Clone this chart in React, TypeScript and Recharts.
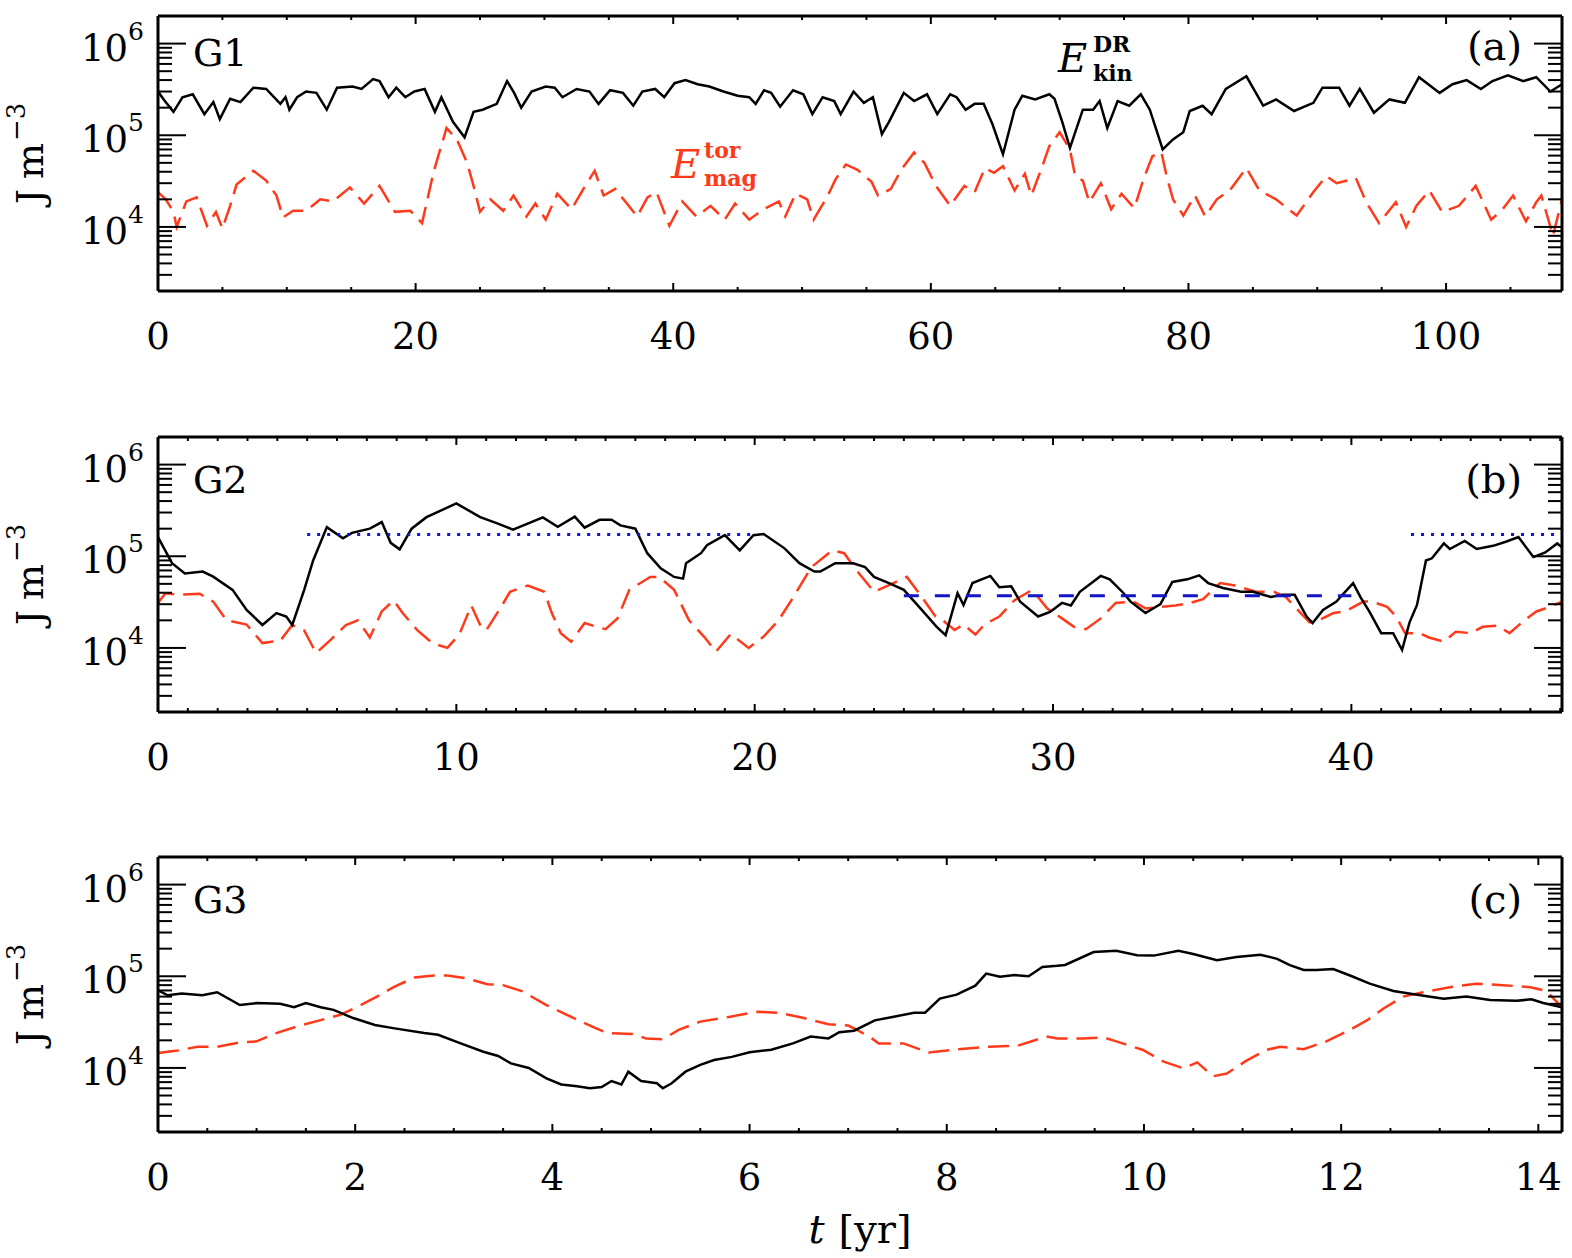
import React from "react";
import { LineChart, Line, XAxis, YAxis } from "recharts";

const SERIF = '"DejaVu Serif", "Liberation Serif", serif';
const INK = "#000000";
const RED = "#ff3a1a";
const BLUE = "#1414c8";

// ---------- shared axis data ----------
const yDomain = [2e3, 2e6];
const yTicks = [
  3e3, 4e3, 5e3, 6e3, 7e3, 8e3, 9e3, 1e4, 2e4, 3e4, 4e4, 5e4, 6e4, 7e4, 8e4, 9e4,
  1e5, 2e5, 3e5, 4e5, 5e5, 6e5, 7e5, 8e5, 9e5, 1e6,
];

// ---------- panel (a) G1 ----------
const g1Domain = [0, 109];
const g1Ticks = [0, 5, 10, 15, 20, 25, 30, 35, 40, 45, 50, 55, 60, 65, 70, 75, 80, 85, 90, 95, 100, 105];
const g1KinT = [
  0, 0.5, 1.2, 1.9, 2.7, 3.6, 4.3, 4.8, 5.6, 6.4, 7.4, 8.4, 9.5, 9.9, 10.2, 10.8, 11.5, 12.3, 13.1, 13.9,
  15.1, 15.8, 16.7, 17.2, 17.9, 18.5, 19.2, 19.9, 20.7, 21.5, 22.0, 22.9, 23.8, 24.5, 25.2, 26.3, 27.1, 27.65,
  28.2, 29.0, 30.1, 30.8, 31.4, 32.5, 33.5, 34.2, 35.1, 36.1, 36.9, 37.6, 38.6, 39.3, 40.1, 40.95, 41.9, 42.8,
  43.9, 45.0, 45.9, 46.4, 47.05, 47.6, 48.3, 49.3, 50.1, 50.8, 51.6, 52.5, 53.0, 54.0, 54.8, 55.5, 56.2, 56.75,
  57.9, 58.7, 59.7, 60.5, 61.5, 62.0, 62.7, 63.4, 64.1, 64.8, 65.6, 66.5, 67.1, 68.1, 69.2, 69.6, 70.2, 70.8,
  71.8, 72.6, 73.1, 73.7, 74.5, 75.4, 76.3, 77.0, 78.0, 78.8, 79.6, 80.1, 81.1, 81.8, 82.9, 84.5, 85.8, 86.8,
  88.2, 89.7, 90.4, 91.7, 92.5, 93.3, 94.4, 95.6, 96.8, 97.9, 99.5, 100.5, 101.6, 102.7, 103.6, 104.8, 106.0,
  107.0, 108.1, 109,
];
const g1KinE = [
  3.0e5, 2.4e5, 1.8e5, 2.6e5, 2.8e5, 1.7e5, 2.3e5, 1.5e5, 2.5e5, 2.3e5, 3.3e5, 3.2e5, 2.2e5, 2.6e5, 1.9e5, 2.6e5,
  3.0e5, 2.9e5, 1.9e5, 3.3e5, 3.4e5, 3.2e5, 4.1e5, 3.9e5, 2.6e5, 3.3e5, 2.6e5, 3.0e5, 3.2e5, 1.8e5, 2.6e5, 1.4e5,
  0.95e5, 1.8e5, 1.9e5, 2.2e5, 3.9e5, 2.9e5, 2.0e5, 3.0e5, 3.4e5, 3.3e5, 2.6e5, 3.2e5, 3.0e5, 2.2e5, 3.1e5, 2.9e5,
  2.1e5, 3.0e5, 3.2e5, 2.6e5, 3.7e5, 4.0e5, 3.6e5, 3.4e5, 3.0e5, 2.7e5, 2.6e5, 2.2e5, 3.1e5, 2.9e5, 2.05e5, 3.1e5,
  2.8e5, 1.7e5, 2.6e5, 2.36e5, 1.7e5, 3.0e5, 2.26e5, 2.6e5, 1.03e5, 1.4e5, 2.9e5, 2.36e5, 2.8e5, 1.7e5, 2.8e5,
  2.6e5, 1.9e5, 2.2e5, 2.2e5, 1.3e5, 0.62e5, 1.9e5, 2.7e5, 2.46e5, 2.8e5, 2.5e5, 1.4e5, 0.73e5, 1.9e5, 1.9e5,
  2.36e5, 1.2e5, 2.36e5, 2.1e5, 2.8e5, 1.9e5, 0.7e5, 0.9e5, 1.08e5, 1.84e5, 2.1e5, 1.7e5, 3.2e5, 4.4e5, 2.1e5,
  2.46e5, 1.84e5, 2.26e5, 3.3e5, 3.3e5, 2.1e5, 3.2e5, 1.76e5, 2.46e5, 2.26e5, 4.3e5, 2.9e5, 3.6e5, 4.0e5, 3.2e5,
  3.9e5, 4.5e5, 3.9e5, 4.3e5, 3.0e5, 3.6e5,
];
const g1MagT = [
  0, 0.6, 1.2, 1.45, 2.2, 3.0, 3.8, 4.5, 5.0, 5.6, 6.1, 7.4, 8.4, 9.2, 9.7, 10.5, 11.5, 12.6, 13.6, 14.9, 16.0,
  17.2, 18.4, 19.6, 20.5, 21.4, 22.4, 23.2, 24.0, 24.5, 25.0, 25.8, 26.8, 27.6, 28.6, 29.3, 30.1, 31.0, 32.1,
  33.1, 33.9, 34.6, 35.5, 36.4, 37.2, 38.0, 38.7, 39.7, 40.7, 41.8, 42.9, 44.0, 44.8, 45.9, 47.0, 48.2, 48.7,
  49.5, 50.4, 50.9, 52.0, 52.6, 53.4, 54.3, 55.4, 55.9, 56.9, 57.7, 58.7, 59.5, 60.4, 61.5, 62.6, 63.4, 64.2,
  64.9, 65.6, 66.5, 67.3, 67.8, 68.5, 69.2, 70.0, 70.8, 71.2, 71.8, 72.3, 73.2, 74.0, 74.8, 75.8, 76.5, 77.2,
  77.9, 78.3, 78.8, 79.6, 80.5, 81.3, 82.2, 83.2, 84.5, 85.5, 86.8, 88.4, 89.7, 90.7, 91.5, 93.0, 93.8, 94.8,
  96.1, 96.9, 97.7, 98.7, 99.7, 101.0, 102.3, 103.5, 104.4, 105.2, 106.2, 107.0, 107.4, 108.3, 109,
];
const g1MagE = [
  2.4e4, 2.0e4, 1.46e4, 1.0e4, 1.9e4, 2.1e4, 1.03e4, 1.46e4, 0.96e4, 1.7e4, 2.9e4, 4.1e4, 3.2e4, 2.2e4, 1.27e4,
  1.5e4, 1.5e4, 2.0e4, 1.9e4, 2.7e4, 1.8e4, 2.8e4, 1.46e4, 1.5e4, 1.1e4, 4.0e4, 12e4, 9e4, 5e4, 2.8e4, 1.46e4,
  2.0e4, 1.5e4, 2.2e4, 1.3e4, 1.8e4, 1.2e4, 2.3e4, 1.56e4, 2.7e4, 4.1e4, 2.2e4, 2.6e4, 1.8e4, 1.3e4, 2.1e4, 2.4e4,
  1.03e4, 1.9e4, 1.3e4, 1.7e4, 1.2e4, 1.8e4, 1.2e4, 1.56e4, 1.9e4, 1.3e4, 2.3e4, 2.0e4, 1.2e4, 2.2e4, 3.3e4,
  4.8e4, 4.2e4, 3.1e4, 2.2e4, 2.6e4, 4.2e4, 6.5e4, 5.0e4, 2.8e4, 1.7e4, 2.8e4, 2.4e4, 4.4e4, 3.9e4, 4.6e4, 2.5e4,
  3.8e4, 2.2e4, 4.0e4, 7.6e4, 10.8e4, 7.0e4, 3.6e4, 3.2e4, 1.86e4, 3.0e4, 1.56e4, 2.3e4, 1.6e4, 3.3e4, 5.9e4,
  6.5e4, 3.6e4, 2.0e4, 1.33e4, 2.2e4, 1.3e4, 2.0e4, 2.5e4, 4.4e4, 2.5e4, 2.0e4, 1.33e4, 2.4e4, 3.6e4, 3.0e4,
  3.4e4, 1.86e4, 1.1e4, 1.86e4, 1.0e4, 1.7e4, 2.5e4, 1.45e4, 1.7e4, 2.8e4, 1.2e4, 1.56e4, 2.2e4, 1.15e4, 1.86e4,
  2.2e4, 0.8e4, 2.0e4,
];

// ---------- panel (b) G2 ----------
const g2Domain = [0, 47.06];
const g2Ticks = [
  0, 1, 2, 3, 4, 5, 6, 7, 8, 9, 10, 11, 12, 13, 14, 15, 16, 17, 18, 19, 20, 21, 22, 23, 24, 25, 26, 27, 28, 29,
  30, 31, 32, 33, 34, 35, 36, 37, 38, 39, 40, 41, 42, 43, 44, 45, 46, 47,
];
const g2KinT = [
  0, 0.47, 0.9, 1.5, 1.85, 2.5, 2.97, 3.5, 3.97, 4.3, 4.5, 4.9, 5.2, 5.66, 6.2, 6.5, 7.1, 7.5, 7.8, 8.1, 8.5,
  9.0, 10.0, 10.8, 11.35, 11.9, 12.9, 13.4, 13.97, 14.3, 14.8, 15.2, 15.5, 16.0, 16.4, 16.85, 17.3, 17.6, 17.7,
  18.2, 18.4, 19.0, 19.5, 19.96, 20.3, 21.0, 21.5, 22.0, 22.2, 22.7, 23.3, 23.7, 24.0, 24.5, 25.0, 25.6, 26.1,
  26.4, 26.8, 27.0, 27.3, 27.9, 28.2, 28.6, 28.9, 29.5, 29.9, 30.3, 30.6, 30.9, 31.6, 31.9, 32.35, 32.6, 33.1,
  33.6, 34.0, 34.5, 34.9, 35.2, 35.7, 36.3, 36.7, 37.3, 37.7, 38.1, 38.5, 38.7, 39.05, 39.5, 39.7, 40.06, 40.3,
  40.6, 41.0, 41.4, 41.7, 41.95, 42.2, 42.5, 42.7, 43.1, 43.3, 43.8, 44.2, 44.75, 45.2, 45.6, 46.1, 46.5, 46.9,
  47.06,
];
const g2KinE = [
  1.62e5, 8.4e4, 6.5e4, 6.8e4, 6.0e4, 4.3e4, 2.6e4, 1.78e4, 2.4e4, 2.2e4, 1.78e4, 4.3e4, 9.0e4, 2.08e5, 1.57e5,
  1.8e5, 2.0e5, 2.36e5, 1.4e5, 1.19e5, 2.0e5, 2.67e5, 3.77e5, 2.67e5, 2.3e5, 1.95e5, 2.65e5, 2.1e5, 2.7e5,
  2.05e5, 2.5e5, 2.5e5, 2.17e5, 2.0e5, 1.08e5, 7.4e4, 5.95e4, 5.7e4, 8.4e4, 1.08e5, 1.32e5, 1.7e5, 1.16e5,
  1.7e5, 1.75e5, 1.22e5, 8.4e4, 6.8e4, 6.8e4, 8.4e4, 8.4e4, 7.6e4, 5.95e4, 5.1e4, 4.3e4, 2.6e4, 1.7e4, 1.38e4,
  3.95e4, 2.94e4, 5.1e4, 6.1e4, 4.6e4, 4.7e4, 3.2e4, 2.2e4, 2.47e4, 3.1e4, 2.9e4, 4.1e4, 6.1e4, 5.6e4, 4.0e4,
  3.2e4, 2.4e4, 3.0e4, 5.25e4, 5.6e4, 6.2e4, 5.1e4, 4.5e4, 4.1e4, 4.1e4, 3.6e4, 3.8e4, 3.8e4, 2.2e4, 1.87e4,
  2.6e4, 3.2e4, 3.8e4, 5.1e4, 3.6e4, 2.5e4, 1.45e4, 1.45e4, 9.5e3, 1.9e4, 2.94e4, 9.0e4, 9.5e4, 1.38e5, 1.2e5,
  1.47e5, 1.2e5, 1.3e5, 1.45e5, 1.62e5, 9.8e4, 1.1e5, 1.38e5, 1.25e5,
];
const g2MagT = [
  0, 0.25, 0.7, 1.4, 1.85, 2.3, 2.97, 3.5, 4.1, 4.5, 4.9, 5.3, 5.76, 6.3, 6.7, 7.1, 7.5, 7.9, 8.2, 8.7, 9.2, 9.7,
  10.1, 10.5, 10.8, 11.0, 11.5, 11.8, 12.4, 12.95, 13.2, 13.5, 13.85, 14.3, 14.7, 15.0, 15.4, 15.8, 16.5, 16.8,
  17.3, 17.8, 18.3, 18.7, 19.2, 19.8, 20.3, 20.8, 21.3, 21.9, 22.6, 23.0, 23.4, 24.0, 24.6, 25.1, 25.6, 26.06,
  26.3, 26.7, 27.0, 27.4, 27.7, 28.2, 28.7, 29.3, 29.8, 30.3, 30.7, 31.1, 31.6, 32.1, 32.7, 33.1, 33.6, 34.1,
  34.6, 35.03, 35.6, 36.1, 36.8, 37.4, 37.8, 38.2, 38.6, 38.9, 39.4, 39.8, 40.4, 40.7, 41.2, 41.5, 41.8, 42.3,
  42.6, 43.1, 43.5, 44.0, 44.4, 44.9, 45.3, 45.8, 46.2, 46.65, 47.06,
];
const g2MagE = [
  3.1e4, 3.95e4, 3.8e4, 3.9e4, 3.2e4, 2.0e4, 1.8e4, 1.13e4, 1.2e4, 1.78e4, 1.55e4, 8.8e3, 1.2e4, 1.78e4, 2.0e4,
  1.3e4, 2.5e4, 3.3e4, 2.4e4, 1.55e4, 1.13e4, 1.0e4, 1.4e4, 2.9e4, 1.78e4, 1.55e4, 2.8e4, 4.1e4, 4.8e4, 4.1e4,
  2.4e4, 1.45e4, 1.17e4, 1.87e4, 1.7e4, 1.6e4, 2.1e4, 4.3e4, 5.95e4, 5.95e4, 4.3e4, 2.0e4, 1.33e4, 9.1e3, 1.42e4,
  1.0e4, 1.33e4, 2.0e4, 3.6e4, 7.6e4, 1.16e5, 1.08e5, 7.1e4, 4.1e4, 5.0e4, 5.95e4, 3.6e4, 2.2e4, 2.0e4, 1.57e4,
  1.8e4, 1.4e4, 1.8e4, 2.2e4, 3.3e4, 4.3e4, 2.7e4, 2.1e4, 1.7e4, 1.6e4, 2.1e4, 3.1e4, 3.2e4, 2.7e4, 2.8e4, 2.9e4,
  3.1e4, 3.4e4, 5.1e4, 4.8e4, 4.1e4, 4.1e4, 3.6e4, 2.6e4, 1.9e4, 2.0e4, 2.4e4, 2.5e4, 3.2e4, 3.2e4, 2.8e4, 2.2e4,
  1.45e4, 1.45e4, 1.3e4, 1.17e4, 1.5e4, 1.45e4, 1.7e4, 1.75e4, 1.45e4, 2.0e4, 2.5e4, 2.8e4, 3.2e4,
];
// horizontal reference levels in panel (b)
const g2HighT1 = [5, 20];
const g2HighT2 = [42, 47.06];
const g2HighE = [1.73e5, 1.73e5];
const g2LowT = [25, 40];
const g2LowE = [3.7e4, 3.7e4];

// ---------- panel (c) G3 ----------
const g3Domain = [0, 14.24];
const g3Ticks = [
  0, 0.5, 1, 1.5, 2, 2.5, 3, 3.5, 4, 4.5, 5, 5.5, 6, 6.5, 7, 7.5, 8, 8.5, 9, 9.5, 10, 10.5, 11, 11.5, 12, 12.5,
  13, 13.5, 14,
];
const g3KinT = [
  0, 0.1, 0.24, 0.45, 0.6, 0.83, 1.0, 1.24, 1.38, 1.5, 1.65, 1.78, 1.98, 2.2, 2.4, 2.7, 2.84, 3.07, 3.3, 3.45,
  3.58, 3.76, 3.94, 4.09, 4.25, 4.38, 4.5, 4.6, 4.7, 4.77, 4.9, 5.06, 5.12, 5.21, 5.35, 5.5, 5.64, 5.82, 6.0,
  6.22, 6.44, 6.62, 6.8, 6.91, 7.06, 7.27, 7.45, 7.67, 7.78, 7.93, 8.1, 8.29, 8.4, 8.54, 8.69, 8.83, 8.97, 9.12,
  9.2, 9.49, 9.72, 9.93, 10.1, 10.35, 10.5, 10.74, 10.94, 11.18, 11.35, 11.48, 11.62, 11.75, 11.92, 12.09, 12.29,
  12.53, 12.77, 13.04, 13.27, 13.51, 13.78, 13.93, 14.05, 14.24,
];
const g3KinE = [
  7.0e4, 6.2e4, 6.5e4, 6.2e4, 6.7e4, 4.85e4, 5.1e4, 5.0e4, 4.6e4, 5.1e4, 4.6e4, 4.3e4, 3.5e4, 2.94e4, 2.7e4,
  2.4e4, 2.3e4, 1.85e4, 1.5e4, 1.35e4, 1.12e4, 1.0e4, 7.7e3, 6.6e3, 6.3e3, 6.0e3, 6.2e3, 7.2e3, 6.6e3, 9.1e3,
  7.2e3, 6.8e3, 6.0e3, 6.8e3, 9.1e3, 1.08e4, 1.22e4, 1.32e4, 1.48e4, 1.58e4, 1.85e4, 2.2e4, 2.1e4, 2.45e4,
  2.55e4, 3.3e4, 3.6e4, 4.0e4, 4.0e4, 5.7e4, 6.3e4, 7.9e4, 1.07e5, 9.9e4, 1.03e5, 1.0e5, 1.26e5, 1.3e5, 1.33e5,
  1.84e5, 1.9e5, 1.7e5, 1.68e5, 1.9e5, 1.75e5, 1.5e5, 1.62e5, 1.72e5, 1.55e5, 1.32e5, 1.17e5, 1.17e5, 1.2e5,
  1.02e5, 8.3e4, 6.9e4, 6.3e4, 5.7e4, 6.0e4, 5.5e4, 5.4e4, 5.6e4, 5.1e4, 4.6e4,
];
const g3MagT = [
  0, 0.2, 0.4, 0.6, 0.83, 1.0, 1.2, 1.44, 1.64, 1.85, 2.05, 2.22, 2.39, 2.6, 2.8, 2.93, 3.13, 3.34, 3.5, 3.69,
  3.94, 4.19, 4.41, 4.56, 4.81, 4.95, 5.12, 5.28, 5.5, 5.79, 6.08, 6.3, 6.55, 6.8, 7.0, 7.09, 7.24, 7.31, 7.56,
  7.82, 8.11, 8.43, 8.72, 9.01, 9.12, 9.38, 9.59, 9.72, 9.99, 10.2, 10.4, 10.54, 10.7, 10.84, 11.04, 11.24,
  11.38, 11.62, 11.85, 12.09, 12.26, 12.43, 12.63, 12.83, 13.1, 13.37, 13.64, 13.92, 14.08, 14.24,
];
const g3MagE = [
  1.45e4, 1.55e4, 1.7e4, 1.7e4, 1.9e4, 1.95e4, 2.4e4, 2.9e4, 3.3e4, 3.8e4, 4.8e4, 6.0e4, 7.6e4, 9.7e4, 1.02e5,
  1.02e5, 9.5e4, 8.2e4, 8.0e4, 6.9e4, 4.85e4, 3.6e4, 2.8e4, 2.4e4, 2.35e4, 2.1e4, 2.05e4, 2.6e4, 3.2e4, 3.6e4,
  4.1e4, 4.0e4, 3.5e4, 3.0e4, 2.9e4, 2.6e4, 2.1e4, 1.85e4, 1.85e4, 1.47e4, 1.6e4, 1.7e4, 1.75e4, 2.2e4, 2.1e4,
  2.1e4, 2.15e4, 1.95e4, 1.57e4, 1.17e4, 9.9e3, 1.15e4, 8.1e3, 8.7e3, 1.2e4, 1.57e4, 1.7e4, 1.6e4, 1.95e4,
  2.6e4, 3.3e4, 4.45e4, 6.0e4, 6.7e4, 7.6e4, 8.3e4, 8.0e4, 7.6e4, 6.9e4, 4.6e4,
];

type Pt = { t: number; v: number };
const zip = (ts: number[], vs: number[]): Pt[] => ts.map((t, i) => ({ t, v: vs[i] }));

const isPow10 = (v: number) => {
  const e = Math.round(Math.log10(v));
  return Math.abs(v / Math.pow(10, e) - 1) < 1e-9;
};
const isMajorX = (v: number, step: number) => Math.abs(v / step - Math.round(v / step)) < 1e-6;

const LeftTick = (props: any) => {
  const { x, y, payload } = props;
  const v = payload.value;
  const major = isPow10(v);
  const e = Math.round(Math.log10(v));
  return (
    <g>
      <line x1={x} x2={x + (major ? 28 : 14)} y1={y} y2={y} stroke={INK} strokeWidth={2} />
      {major ? (
        <text x={x - 14} y={y + 17} textAnchor="end" fontFamily={SERIF} fontSize={37} fill={INK}>
          10
          <tspan fontSize={25} dy={-21}>
            {e}
          </tspan>
        </text>
      ) : null}
    </g>
  );
};

const RightTick = (props: any) => {
  const { x, y, payload } = props;
  const major = isPow10(payload.value);
  return <line x1={x} x2={x - (major ? 28 : 14)} y1={y} y2={y} stroke={INK} strokeWidth={2} />;
};

const BottomTick = (props: any) => {
  const { x, y, payload, step } = props;
  const v = payload.value;
  const major = isMajorX(v, step);
  return (
    <g>
      <line x1={x} x2={x} y1={y} y2={y - (major ? 8 : 4)} stroke={INK} strokeWidth={2} />
      {major ? (
        <text x={x} y={y + 58} textAnchor="middle" fontFamily={SERIF} fontSize={37} fill={INK}>
          {String(v)}
        </text>
      ) : null}
    </g>
  );
};

const TopTick = (props: any) => {
  const { x, y, payload, step } = props;
  const major = isMajorX(payload.value, step);
  return <line x1={x} x2={x} y1={y} y2={y + (major ? 8 : 4)} stroke={INK} strokeWidth={2} />;
};

const YLabel = (props: any) => {
  const vb = props.viewBox || { x: 0, y: 0, width: 158, height: 275 };
  const cx = vb.x + 43;
  const cy = vb.y + vb.height / 2;
  return (
    <text
      transform={`translate(${cx},${cy}) rotate(-90)`}
      textAnchor="middle"
      fontFamily={SERIF}
      fontSize={38}
      fill={INK}
    >
      J<tspan dx={10}>m</tspan>
      <tspan fontSize={26} dy={-18} dx={2}>
        −3
      </tspan>
    </text>
  );
};

const XLabel = (props: any) => {
  const vb = props.viewBox || { x: 158, y: 291, width: 1404, height: 125 };
  const cx = vb.x + vb.width / 2;
  return (
    <text x={cx} y={vb.y + 111} textAnchor="middle" fontFamily={SERIF} fontSize={40} fill={INK}>
      <tspan fontStyle="italic">t</tspan>
      <tspan dx={14}>[yr]</tspan>
    </text>
  );
};

const PLOT_TOP = 16;
const PLOT_H = 275;
const frame = { stroke: INK, strokeWidth: 3 };

function Panel(props: {
  top: number;
  height: number;
  domain: number[];
  ticks: number[];
  step: number;
  kin: Pt[];
  mag: Pt[];
  children?: React.ReactNode;
  xLabel?: boolean;
}) {
  const { top, height, domain, ticks, step, kin, mag, children, xLabel } = props;
  return (
    <div style={{ position: "absolute", left: 0, top }}>
      <LineChart width={1572} height={height} margin={{ top: 0, right: 0, bottom: 0, left: 0 }}>
        <XAxis
          xAxisId="b"
          type="number"
          dataKey="t"
          domain={domain}
          allowDataOverflow
          ticks={ticks}
          interval={0}
          height={height - PLOT_TOP - PLOT_H}
          tickSize={0}
          tickMargin={0}
          tickLine={false}
          axisLine={frame}
          tick={(p: any) => <BottomTick {...p} step={step} />}
          label={xLabel ? <XLabel /> : undefined}
        />
        <XAxis
          xAxisId="t"
          orientation="top"
          type="number"
          dataKey="t"
          domain={domain}
          allowDataOverflow
          ticks={ticks}
          interval={0}
          height={PLOT_TOP}
          tickSize={0}
          tickMargin={0}
          tickLine={false}
          axisLine={frame}
          tick={(p: any) => <TopTick {...p} step={step} />}
        />
        <YAxis
          yAxisId="l"
          type="number"
          scale="log"
          domain={yDomain}
          allowDataOverflow
          ticks={yTicks}
          interval={0}
          width={158}
          tickSize={0}
          tickMargin={0}
          tickLine={false}
          axisLine={frame}
          tick={(p: any) => <LeftTick {...p} />}
          label={<YLabel />}
        />
        <YAxis
          yAxisId="r"
          orientation="right"
          type="number"
          scale="log"
          domain={yDomain}
          allowDataOverflow
          ticks={yTicks}
          interval={0}
          width={10}
          tickSize={0}
          tickMargin={0}
          tickLine={false}
          axisLine={frame}
          tick={(p: any) => <RightTick {...p} />}
        />
        <Line
          xAxisId="b"
          yAxisId="l"
          data={mag}
          dataKey="v"
          type="linear"
          stroke={RED}
          strokeWidth={2.5}
          strokeDasharray="21 9"
          dot={false}
          activeDot={false}
          isAnimationActive={false}
        />
        <Line
          xAxisId="b"
          yAxisId="l"
          data={kin}
          dataKey="v"
          type="linear"
          stroke={INK}
          strokeWidth={2.5}
          dot={false}
          activeDot={false}
          isAnimationActive={false}
        />
        {children}
      </LineChart>
    </div>
  );
}

const guide = (data: Pt[], dash: string, key: string) => (
  <Line
    key={key}
    xAxisId="b"
    yAxisId="l"
    data={data}
    dataKey="v"
    type="linear"
    stroke={BLUE}
    strokeWidth={3}
    strokeDasharray={dash}
    dot={false}
    activeDot={false}
    isAnimationActive={false}
  />
);

const txt = { fontFamily: SERIF, fill: INK } as const;

export default function App() {
  return (
    <div style={{ position: "absolute", left: 0, top: 0, width: 1572, height: 1258, background: "#fff" }}>
      <Panel top={0} height={420} domain={g1Domain} ticks={g1Ticks} step={20} kin={zip(g1KinT, g1KinE)} mag={zip(g1MagT, g1MagE)} />
      <Panel top={421} height={420} domain={g2Domain} ticks={g2Ticks} step={10} kin={zip(g2KinT, g2KinE)} mag={zip(g2MagT, g2MagE)}>
        {guide(zip(g2HighT1, g2HighE), "3 7", "h1")}
        {guide(zip(g2HighT2, g2HighE), "3 7", "h2")}
        {guide(zip(g2LowT, g2LowE), "15 16", "lo")}
      </Panel>
      <Panel top={841} height={417} domain={g3Domain} ticks={g3Ticks} step={2} kin={zip(g3KinT, g3KinE)} mag={zip(g3MagT, g3MagE)} xLabel />
      <svg width={1572} height={1258} style={{ position: "absolute", left: 0, top: 0, pointerEvents: "none" }}>
        <text x={193} y={66} fontSize={38} {...txt}>G1</text>
        <text x={193} y={493} fontSize={38} {...txt}>G2</text>
        <text x={193} y={913} fontSize={38} {...txt}>G3</text>
        <text x={1522} y={60} fontSize={40} textAnchor="end" {...txt}>(a)</text>
        <text x={1522} y={493} fontSize={40} textAnchor="end" {...txt}>(b)</text>
        <text x={1522} y={913} fontSize={40} textAnchor="end" {...txt}>(c)</text>
        <text x={1058} y={72} fontSize={40} fontStyle="italic" {...txt}>E</text>
        <text x={1093} y={52} fontSize={22} fontWeight="bold" {...txt}>DR</text>
        <text x={1093} y={81} fontSize={22} fontWeight="bold" {...txt}>kin</text>
        <text x={671} y={178} fontSize={40} fontStyle="italic" fontFamily={SERIF} fill={RED}>E</text>
        <text x={704} y={158} fontSize={22} fontWeight="bold" fontFamily={SERIF} fill={RED}>tor</text>
        <text x={704} y={186} fontSize={22} fontWeight="bold" fontFamily={SERIF} fill={RED}>mag</text>
      </svg>
    </div>
  );
}
